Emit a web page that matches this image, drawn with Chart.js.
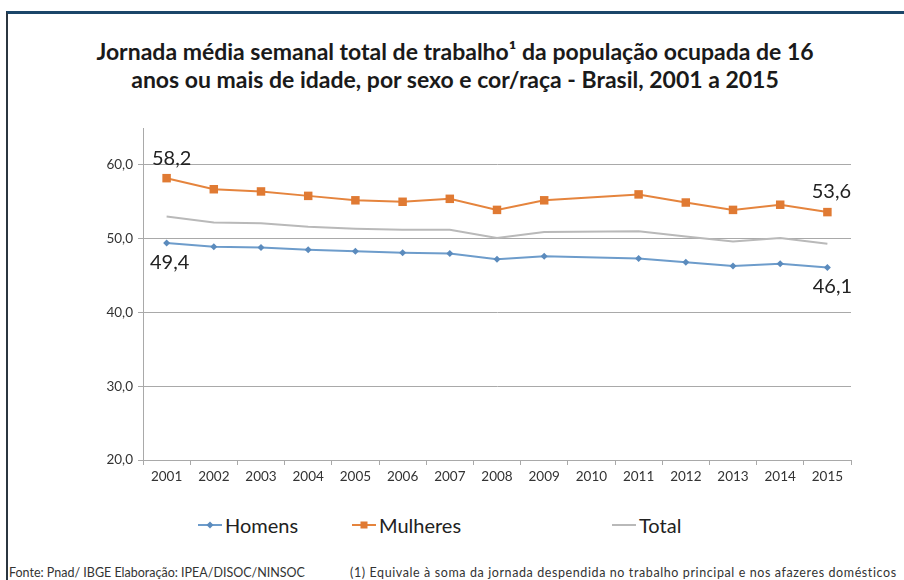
<!DOCTYPE html>
<html lang="pt-BR">
<head>
<meta charset="utf-8">
<script src="https://cdn.jsdelivr.net/npm/chart.js@4.4.1/dist/chart.umd.min.js"></script>
<style>
  html, body { margin: 0; padding: 0; background: #fff; }
  #page { position: relative; width: 904px; height: 580px; overflow: hidden; font-family: Lato, "Open Sans", sans-serif; }
  #frame { position: absolute; left: 6px; top: 11px; right: 0; bottom: 0; border-top: 3px solid #1b4669; border-left: 2px solid #2b3640; }
  #title { position: absolute; left: 0; top: 37px; width: 910px; text-align: center; font-size: 23px; font-weight: bold; line-height: 28px; color: #1a1a1a; }
  #wrap { position: absolute; left: 0; top: 0; width: 904px; height: 500px; }
  #legend { position: absolute; top: 511px; left: 0; width: 904px; height: 28px; }
  .item { position: absolute; top: 0; height: 28px; display: flex; align-items: center; font-size: 20px; color: #222; }
  .swatch { position: relative; width: 24px; height: 2px; margin-right: 3px; }
  .mark { position: absolute; left: 50%; top: 50%; }
  .foot { position: absolute; top: 565px; font-size: 12.5px; color: #333; white-space: nowrap; }
</style>
</head>
<body>
<div id="page">
  <div id="frame"></div>
  <div id="title">Jornada média semanal total de trabalho¹ da população ocupada de 16<br>anos ou mais de idade, por sexo e cor/raça - Brasil, 2001 a 2015</div>
  <div id="wrap"><canvas id="graph"></canvas></div>
  <div id="legend"></div>
  <div class="foot" style="left:9px">Fonte: Pnad/ IBGE Elaboração: IPEA/DISOC/NINSOC</div>
  <div class="foot" style="left:350px; letter-spacing:0.6px">(1) Equivale à soma da jornada despendida no trabalho principal e nos afazeres domésticos</div>
</div>
<script>
const years = ["2001", "2002", "2003", "2004", "2005", "2006", "2007", "2008", "2009", "2010", "2011", "2012", "2013", "2014", "2015"]
const seriesNames = ["Homens", "Mulheres", "Total"]
// 2010: sem PNAD (ano de Censo)
const homens = [49.4, 48.9, 48.8, 48.5, 48.3, 48.1, 48.0, 47.2, 47.6, null, 47.3, 46.8, 46.3, 46.6, 46.1]
const mulheres = [58.2, 56.7, 56.4, 55.8, 55.2, 55.0, 55.4, 53.9, 55.2, null, 56.0, 54.9, 53.9, 54.6, 53.6]
const total = [53.0, 52.2, 52.1, 51.6, 51.35, 51.2, 51.2, 50.1, 50.9, null, 51.0, 50.3, 49.6, 50.1, 49.3]
const yTicks = [20, 30, 40, 50, 60]

const blue = "#6d9ccb"
const orange = "#e5843d"
const grey = "#b9b9b9"
const gridColor = "#a9a9a9"

const fmt = v => v.toFixed(1).replace(".", ",")

// rótulos de valor: [dataset, índice, dx, dy]
const valueLabels = [
  [1, 0, 5, -20],
  [0, 0, 3, 19],
  [1, 14, 4, -21],
  [0, 14, 5, 19]
]

const valueLabelPlugin = {
  id: "valueLabels",
  afterDatasetsDraw(chart) {
    const ctx = chart.ctx
    ctx.save()
    ctx.font = "20px Lato"
    ctx.fillStyle = "#222"
    ctx.textAlign = "center"
    ctx.textBaseline = "middle"
    valueLabels.forEach(([ds, i, dx, dy]) => {
      const pt = chart.getDatasetMeta(ds).data[i]
      const v = chart.data.datasets[ds].data[i]
      ctx.fillText(fmt(v), pt.x + dx, pt.y + dy)
    })
    ctx.restore()
  }
}

const canva = document.getElementById("graph")
const ctx = canva.getContext("2d")

const chart = new Chart(ctx, {
  type: "line",
  data: {
    labels: years,
    datasets: [
      {
        label: seriesNames[0], data: homens,
        borderColor: blue, backgroundColor: "#5b8bbd", borderWidth: 2,
        pointStyle: "rectRot", pointRadius: 3.5, pointBorderWidth: 0
      },
      {
        label: seriesNames[1], data: mulheres,
        borderColor: orange, backgroundColor: "#e07a33", borderWidth: 2,
        pointStyle: "rect", pointRadius: 6, pointBorderWidth: 0
      },
      {
        label: seriesNames[2], data: total,
        borderColor: grey, backgroundColor: grey, borderWidth: 2,
        pointRadius: 0
      }
    ]
  },
  options: {
    responsive: true,
    maintainAspectRatio: false,
    animation: false,
    spanGaps: true,
    layout: { padding: { left: 10, right: 53, top: 128, bottom: 0 } },
    plugins: {
      legend: { display: false },
      tooltip: { enabled: false }
    },
    scales: {
      x: {
        offset: true,
        grid: { offset: true, drawOnChartArea: false, drawTicks: true, tickLength: 5, color: gridColor },
        border: { color: gridColor },
        ticks: { color: "#333", font: { family: "Lato", size: 13.5 }, padding: 4, maxRotation: 0 },
        afterFit: scale => { scale.height = 40 }
      },
      y: {
        min: 20,
        max: 65,
        afterBuildTicks: scale => { scale.ticks = yTicks.map(v => ({ value: v })) },
        grid: { color: gridColor, tickLength: 5 },
        border: { color: gridColor },
        ticks: { color: "#333", font: { family: "Lato", size: 13.5 }, padding: 5, callback: v => fmt(v) },
        afterFit: scale => { scale.width = 133 }
      }
    }
  },
  plugins: [valueLabelPlugin]
})

// legenda em HTML, a partir dos datasets
const legendLeft = [198, 352, 612]
const legend = document.getElementById("legend")
chart.data.datasets.forEach((ds, i) => {
  const item = document.createElement("div")
  item.className = "item"
  item.style.left = legendLeft[i] + "px"
  const sw = document.createElement("span")
  sw.className = "swatch"
  sw.style.background = ds.borderColor
  if (ds.pointRadius > 0) {
    const m = document.createElement("span")
    m.className = "mark"
    const s = ds.pointStyle === "rect" ? 7 : 5
    m.style.width = s + "px"
    m.style.height = s + "px"
    m.style.background = ds.backgroundColor
    m.style.transform = "translate(-50%, -50%)" + (ds.pointStyle === "rectRot" ? " rotate(45deg)" : "")
    sw.appendChild(m)
  }
  item.appendChild(sw)
  item.appendChild(document.createTextNode(ds.label))
  legend.appendChild(item)
})
</script>
</body>
</html>
